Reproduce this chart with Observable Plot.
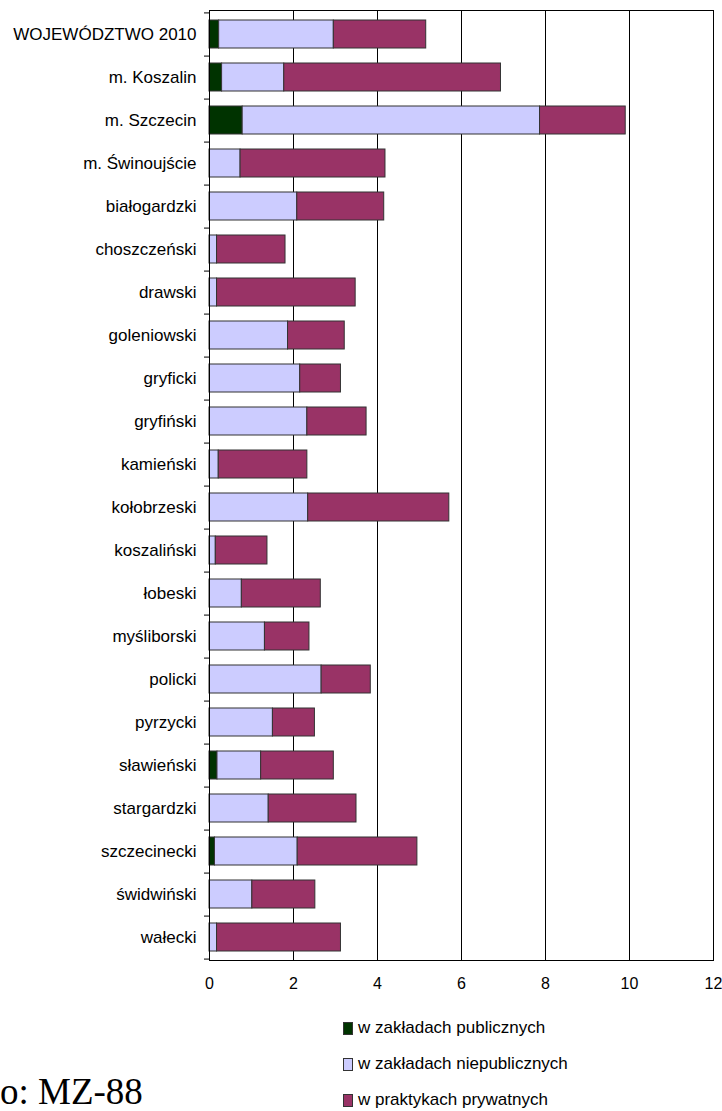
<!DOCTYPE html>
<html>
<head>
<meta charset="utf-8">
<script src="https://cdn.jsdelivr.net/npm/d3@7"></script>
<script src="https://cdn.jsdelivr.net/npm/@observablehq/plot@0.6"></script>
<style>
  body { margin: 0; background: #fff; font-family: "Liberation Sans", Arial, sans-serif; }
  #wrap { position: relative; width: 722px; height: 1111px; overflow: hidden; }
  #legend { position: absolute; left: 343px; top: 1018px; font-size: 17px; line-height: 19px; color: #000; }
  .item { height: 36px; display: flex; align-items: flex-start; }
  .sw { width: 8px; height: 11px; border: 1px solid #333; margin-right: 5px; margin-top: 4px; }
  #src { position: absolute; left: 0px; top: 1070px; font-family: "Liberation Serif", "Times New Roman", serif; font-size: 37px; color: #000; white-space: nowrap; }
</style>
</head>
<body>
<div id="wrap">
  <div id="chart"></div>
  <div id="legend"></div>
  <div id="src">o: MZ-88</div>
</div>
<script>
const categories = ["WOJEWÓDZTWO 2010","m. Koszalin","m. Szczecin","m. Świnoujście","białogardzki","choszczeński","drawski","goleniowski","gryficki","gryfiński","kamieński","kołobrzeski","koszaliński","łobeski","myśliborski","policki","pyrzycki","sławieński","stargardzki","szczecinecki","świdwiński","wałecki"];
const publiczne    = [0.23, 0.30, 0.79, 0, 0, 0, 0, 0, 0, 0, 0, 0, 0, 0, 0, 0, 0, 0.19, 0, 0.13, 0, 0];
const niepubliczne = [2.73, 1.48, 7.08, 0.74, 2.09, 0.18, 0.18, 1.87, 2.16, 2.33, 0.22, 2.35, 0.15, 0.77, 1.32, 2.67, 1.51, 1.04, 1.41, 1.97, 1.02, 0.18];
const prywatne     = [2.20, 5.16, 2.04, 3.45, 2.07, 1.63, 3.30, 1.35, 0.97, 1.41, 2.11, 3.36, 1.23, 1.88, 1.06, 1.17, 1.00, 1.73, 2.09, 2.85, 1.50, 2.95];
const seriesNames = ["w zakładach publicznych", "w zakładach niepublicznych", "w praktykach prywatnych"];
const seriesColors = ["#003300", "#ccccff", "#993366"];
const xTicks = [0, 2, 4, 6, 8, 10, 12];

const seriesValues = [publiczne, niepubliczne, prywatne];
const data = [];
categories.forEach((c, i) => {
  seriesNames.forEach((s, j) => {
    data.push({cat: c, series: s, value: seriesValues[j][i]});
  });
});

const H = 1000, MT = 10, MB = 40;
const step = (H - MT - MB) / categories.length;

const chart = Plot.plot({
  width: 722,
  height: H,
  marginLeft: 209,
  marginRight: 9,
  marginTop: MT,
  marginBottom: MB,
  style: {fontFamily: "'Liberation Sans', Arial, sans-serif", fontSize: "16px", color: "#000", background: "#fff"},
  x: {domain: [0, 12], ticks: xTicks, label: null},
  y: {domain: categories, paddingInner: 0.35, paddingOuter: 0.175, label: null},
  color: {domain: seriesNames, range: seriesColors},
  marks: [
    Plot.ruleX(xTicks.slice(1), {stroke: "#000", strokeWidth: 1}),
    Plot.barX(data.filter(d => d.value > 0), Plot.stackX({x: "value", y: "cat", fill: "series", order: seriesNames, stroke: "#333", strokeWidth: 1})),
    Plot.frame({stroke: "#000"}),
    Plot.axisX({ticks: xTicks, tickSize: 0, tickPadding: 17, fontSize: 16, label: null}),
    Plot.axisY({tickSize: 0, tickPadding: 13, fontSize: 17, label: null}),
    Plot.axisY({tickSize: 5, tickFormat: null, dy: step / 2, stroke: "#000", label: null}),
    Plot.axisY(categories.slice(0, 1), {tickSize: 5, tickFormat: null, dy: -step / 2, stroke: "#000", label: null})
  ]
});
document.getElementById("chart").appendChild(chart);

const legend = document.getElementById("legend");
seriesNames.forEach((s, j) => {
  const item = document.createElement("div");
  item.className = "item";
  const sw = document.createElement("div");
  sw.className = "sw";
  sw.style.background = seriesColors[j];
  const t = document.createElement("span");
  t.textContent = s;
  item.appendChild(sw);
  item.appendChild(t);
  legend.appendChild(item);
});
</script>
</body>
</html>
